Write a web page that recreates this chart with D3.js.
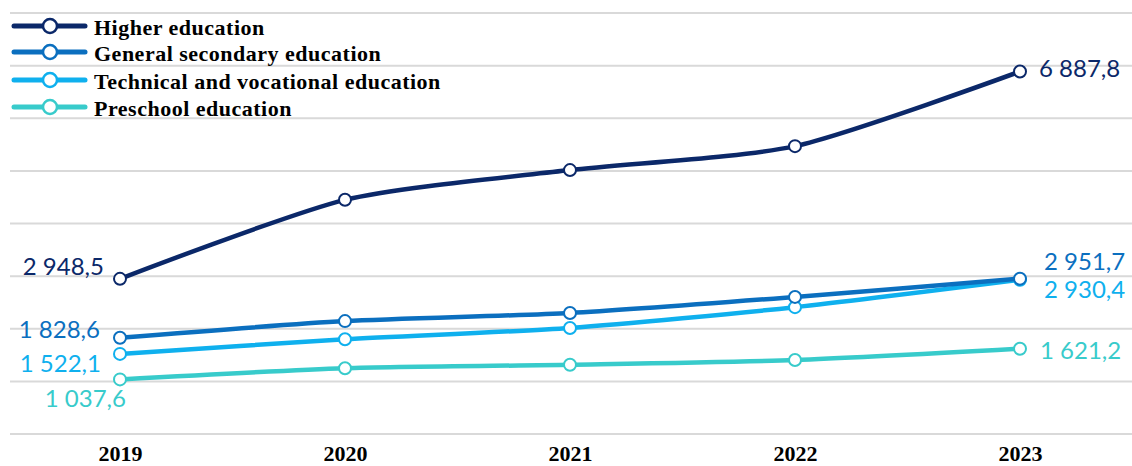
<!DOCTYPE html>
<html><head><meta charset="utf-8">
<script src="https://cdn.jsdelivr.net/npm/d3@7"></script>
<style>body{margin:0;background:#fff}svg{display:block}</style>
</head><body>
<svg id="c" width="1132" height="466"></svg>
<script>
const years = ["2019","2020","2021","2022","2023"];
const seriesNames = ["Higher education","General secondary education","Technical and vocational education","Preschool education"];
const higher = [2948.5, 4450, 5015, 5470, 6887.8];
const general = [1828.6, 2145, 2300, 2605, 2951.7];
const technical = [1522.1, 1800, 2015, 2410, 2930.4];
const preschool = [1037.6, 1250, 1315, 1405, 1621.2];
const colors = ["#0b2869","#0b6fbf","#0fb0ee","#38cbcb"];
const gridTicks = [0,1000,2000,3000,4000,5000,6000,7000,8000];

const all = [higher, general, technical, preschool];
const svg = d3.select("#c");
const x = d3.scalePoint().domain(years).range([120,1020]);
const y = d3.scaleLinear().domain([0,8000]).range([434,13]);

svg.append("g").selectAll("line").data(gridTicks).join("line")
  .attr("x1",10).attr("x2",1132).attr("y1",d=>y(d)).attr("y2",d=>y(d))
  .attr("stroke","#d9d9d9").attr("stroke-width",2);

const xAxis = svg.append("g").attr("transform","translate(0,434)")
  .call(d3.axisBottom(x).tickSize(0).tickPadding(11));
xAxis.select(".domain").remove();
xAxis.selectAll("text").attr("font-family","Liberation Serif").attr("font-weight","bold")
  .attr("font-size",22).attr("fill","#000");

const line = d3.line().x((d,i)=>x(years[i])).y(d=>y(d)).curve(d3.curveCardinal.tension(0.3));
for (let s = all.length-1; s>=0; s--) {
  const g = svg.append("g");
  g.append("path").datum(all[s]).attr("d",line).attr("fill","none")
    .attr("stroke",colors[s]).attr("stroke-width",4.5);
  g.selectAll("circle").data(all[s]).join("circle")
    .attr("cx",(d,i)=>x(years[i])).attr("cy",d=>y(d)).attr("r",6)
    .attr("fill","#fff").attr("stroke",colors[s]).attr("stroke-width",2);
}

const fmt = v => d3.format(",.1f")(v).replace(/,/g," ").replace(".",",");
const startOff = [[-16,-13],[-20,-9],[-19,9],[6,18]];
const endOff = [[19,-4],[24,-18],[24,9],[20,1]];
all.forEach((s,i)=>{
  svg.append("text").attr("x",x(years[0])+startOff[i][0]).attr("y",y(s[0])+startOff[i][1])
    .attr("text-anchor","end").attr("dominant-baseline","central")
    .attr("font-family","Lato").attr("font-size",24).attr("fill",colors[i]).text(fmt(s[0]));
  svg.append("text").attr("x",x(years[4])+endOff[i][0]).attr("y",y(s[4])+endOff[i][1])
    .attr("text-anchor","start").attr("dominant-baseline","central")
    .attr("font-family","Lato").attr("font-size",24).attr("fill",colors[i]).text(fmt(s[4]));
});

const leg = svg.append("g");
const legY = [26,52,80,107];
seriesNames.forEach((n,i)=>{
  const g = leg.append("g").attr("transform",`translate(0,${legY[i]})`);
  g.append("line").attr("x1",14).attr("x2",85).attr("stroke",colors[i]).attr("stroke-width",5).attr("stroke-linecap","round");
  g.append("circle").attr("cx",50).attr("r",7).attr("fill","#fff").attr("stroke",colors[i]).attr("stroke-width",2.5);
  g.append("text").attr("x",94).attr("y",1).attr("dominant-baseline","central")
    .attr("font-family","Liberation Serif").attr("font-weight","bold").attr("font-size",22)
    .attr("letter-spacing",0.5).attr("fill","#000").text(n);
});
</script>
</body></html>
